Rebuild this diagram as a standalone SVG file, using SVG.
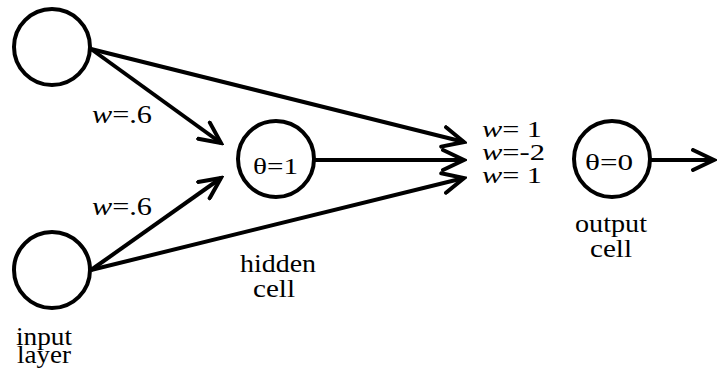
<svg xmlns="http://www.w3.org/2000/svg" width="718" height="373" viewBox="0 0 718 373">
<style>
.node{fill:#fff;stroke:#000;stroke-width:4}
.edge{fill:none;stroke:#000;stroke-width:4;marker-end:url(#arr)}
text{font-family:'Liberation Serif','Times New Roman',serif;fill:#000}
.lbl{font-size:25px;text-anchor:middle}
.w{font-size:25px}
.t{font-size:24px}
.wl{font-size:23px}
</style>
<defs>
<marker id="arr" markerUnits="userSpaceOnUse" viewBox="0 0 26 24" refX="23" refY="12" markerWidth="26" markerHeight="24" orient="auto">
<path d="M2,2 L23,12 L2,22" fill="none" stroke="#000" stroke-width="4" stroke-linecap="round" stroke-linejoin="miter"/>
</marker>
</defs>
<rect width="718" height="373" fill="#fff"/>
<g id="connectors">
<line class="edge" x1="91" y1="49" x2="221" y2="143"/>
<line class="edge" x1="91" y1="49" x2="464" y2="142"/>
<line class="edge" x1="91" y1="270" x2="221" y2="178"/>
<line class="edge" x1="91" y1="270" x2="464" y2="178"/>
<line class="edge" x1="315" y1="160" x2="464" y2="160"/>
<line class="edge" x1="651" y1="160" x2="714" y2="160"/>
</g>
<g id="input1"><circle class="node" cx="52" cy="47" r="38"/></g>
<g id="input2"><circle class="node" cx="52" cy="270" r="38"/><text class="lbl" x="44" y="345" textLength="56" lengthAdjust="spacingAndGlyphs">input</text><text class="lbl" x="44" y="363" textLength="54" lengthAdjust="spacingAndGlyphs">layer</text></g>
<g id="hidden"><circle class="node" cx="276" cy="159" r="38"/><text class="t" x="253" y="174" textLength="45" lengthAdjust="spacingAndGlyphs">θ=1</text><text class="lbl" x="278" y="272" textLength="76" lengthAdjust="spacingAndGlyphs">hidden</text><text class="lbl" x="274" y="297" textLength="42" lengthAdjust="spacingAndGlyphs">cell</text></g>
<g id="output"><circle class="node" cx="612" cy="159" r="38"/><text class="t" x="585" y="170" textLength="48" lengthAdjust="spacingAndGlyphs">θ=0</text><text class="lbl" x="611" y="232" textLength="72" lengthAdjust="spacingAndGlyphs">output</text><text class="lbl" x="611" y="257" textLength="42" lengthAdjust="spacingAndGlyphs">cell</text></g>
<g id="labels">
<text class="w" x="92" y="123" textLength="60" lengthAdjust="spacingAndGlyphs"><tspan font-style="italic">w</tspan>=.6</text>
<text class="w" x="92" y="215" textLength="60" lengthAdjust="spacingAndGlyphs"><tspan font-style="italic">w</tspan>=.6</text>
<text class="wl" x="482" y="137" textLength="60" lengthAdjust="spacingAndGlyphs"><tspan font-style="italic">w</tspan>= 1</text>
<text class="wl" x="482" y="160" textLength="63" lengthAdjust="spacingAndGlyphs"><tspan font-style="italic">w</tspan>=-2</text>
<text class="wl" x="482" y="183" textLength="60" lengthAdjust="spacingAndGlyphs"><tspan font-style="italic">w</tspan>= 1</text>
</g>
</svg>
